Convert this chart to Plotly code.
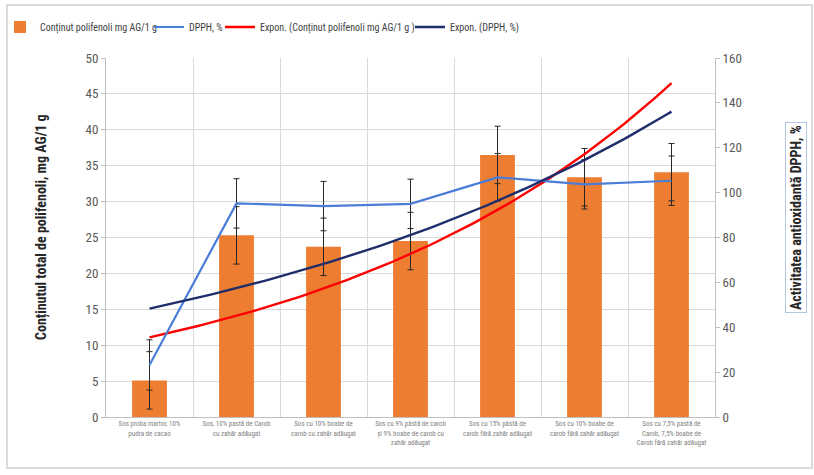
import numpy as np
import plotly.graph_objects as go

# Samples (x-axis categories)
categories = [
    "Sos proba martor, 10%<br>pudra de cacao",
    "Sos, 10% pastă de Carob<br>cu zahăr adăugat",
    "Sos cu 10% boabe de<br>carob cu zahăr adăugat",
    "Sos cu 9% pâstă de carob<br>și 9% boabe de carob cu<br>zahăr adăugat",
    "Sos cu 15% pâstă de<br>carob fără zahăr adăugat",
    "Sos cu 10% boabe de<br>carob fără zahăr adăugat",
    "Sos cu 7,5% pastă de<br>Carob, 7,5% boabe de<br>Carob fără zahăr adăugat",
]

# Total polyphenol content, mg AG/1 g (left axis)
polifenoli = [5.1, 25.3, 23.7, 24.5, 36.5, 33.4, 34.1]
polifenoli_err = [4.0, 4.0, 4.0, 4.0, 4.0, 4.0, 4.0]

# Antioxidant activity DPPH, % (right axis)
dpph = [23.2, 95.2, 94.0, 95.0, 106.8, 103.7, 105.3]
dpph_err = [11.2, 11.0, 11.0, 11.0, 10.6, 11.0, 11.0]

left_ticks = list(range(0, 55, 5))
right_ticks = list(range(0, 180, 20))

FONT = "Liberation Sans Narrow, Roboto Condensed, Liberation Sans, Arial"
GRID = "#D9D9D9"
TICK = "#595959"

x = np.arange(1, len(categories) + 1)


def expon_trend(values, n=100):
    """Least-squares exponential trendline y = a*exp(b*x)."""
    b, ln_a = np.polyfit(x, np.log(values), 1)
    xs = np.linspace(x[0], x[-1], n)
    return xs, np.exp(ln_a) * np.exp(b * xs)


tx_p, ty_p = expon_trend(polifenoli)
tx_d, ty_d = expon_trend(dpph)

fig = go.Figure()

fig.add_trace(go.Bar(
    x=x, y=polifenoli, name="Conținut polifenoli mg AG/1 g",
    marker=dict(color="#ED7D31", line=dict(width=0)), width=0.4,
    error_y=dict(type="data", array=polifenoli_err, color="#262626",
                 thickness=1, width=3),
    yaxis="y", legend="legend",
))

fig.add_trace(go.Scatter(
    x=x, y=dpph, name="DPPH, %", mode="lines",
    line=dict(color="#4A7DD8", width=2.2),
    error_y=dict(type="data", array=dpph_err, color="#262626",
                 thickness=1, width=3),
    yaxis="y2", legend="legend2",
))

fig.add_trace(go.Scatter(
    x=tx_p, y=ty_p, name="Expon. (Conținut polifenoli mg AG/1 g )",
    mode="lines", line=dict(color="#FF0000", width=2.4), yaxis="y",
    legend="legend3",
))

fig.add_trace(go.Scatter(
    x=tx_d, y=ty_d, name="Expon. (DPPH, %)",
    mode="lines", line=dict(color="#1F2D6B", width=2.4), yaxis="y2",
    legend="legend4",
))

# Pixel geometry of the plot area
L, R, T, B = 106, 99, 58, 58
W, H = 814, 475
PW, PH = W - L - R, H - T - B


def px(xp):
    return (xp - L) / PW


def py(yp):
    return (H - B - yp) / PH


def legend_at(x_px):
    return dict(
        orientation="h", xref="container", yref="container",
        x=x_px / W, y=1 - 27 / H, xanchor="left", yanchor="middle",
        font=dict(family=FONT, size=10, color="#404040"),
        bgcolor="rgba(0,0,0,0)", itemwidth=30,
    )


fig.update_layout(
    width=W, height=H,
    margin=dict(l=L, r=R, t=T, b=B, autoexpand=False),
    paper_bgcolor="white", plot_bgcolor="white",
    font=dict(family=FONT, color=TICK, size=13),
    showlegend=True,
    legend=legend_at(-9),
    legend2=legend_at(149),
    legend3=legend_at(220),
    legend4=legend_at(410),
    xaxis=dict(
        range=[0.5, 7.5], tickmode="array", tickvals=list(x),
        ticktext=categories, tickangle=0,
        tickfont=dict(size=7, color="#7F7F7F", family=FONT),
        showgrid=False, zeroline=False,
        showline=True, linecolor="#BFBFBF", linewidth=1,
        minor=dict(tickvals=[1.5, 2.5, 3.5, 4.5, 5.5, 6.5],
                   showgrid=True, gridcolor=GRID, gridwidth=1),
    ),
    yaxis=dict(
        range=[0, 50], tickvals=left_ticks,
        tickfont=dict(size=13, color=TICK),
        showgrid=True, gridcolor=GRID, gridwidth=1,
        zeroline=False, showline=True, linecolor="#BFBFBF",
        ticks="outside", ticklen=4, tickcolor="#BFBFBF",
    ),
    yaxis2=dict(
        range=[0, 160], tickvals=right_ticks, overlaying="y", side="right",
        tickfont=dict(size=13, color=TICK),
        showgrid=False, zeroline=False, showline=True, linecolor="#BFBFBF",
        ticks="outside", ticklen=4, tickcolor="#BFBFBF",
    ),
    annotations=[
        dict(text="<b>Conținutul total de polifenoli, mg AG/1 g</b>",
             xref="paper", yref="paper", x=px(41), y=py(227),
             xanchor="center", yanchor="middle",
             textangle=-90, showarrow=False,
             font=dict(family=FONT, size=14, color="#262626")),
        dict(text="<b>Activitatea antioxidantă DPPH, %</b>",
             xref="paper", yref="paper", x=px(796), y=py(218),
             xanchor="center", yanchor="middle",
             textangle=-90, showarrow=False,
             bordercolor="#B4C7E7", borderwidth=1, borderpad=2,
             font=dict(family=FONT, size=14, color="#262626")),
    ],
    shapes=[
        dict(type="rect", xref="paper", yref="paper",
             x0=px(7), x1=px(812), y0=py(468), y1=py(5),
             line=dict(color="#D0D0D0", width=1.5), layer="below"),
    ],
)

fig.write_html("out.html")
